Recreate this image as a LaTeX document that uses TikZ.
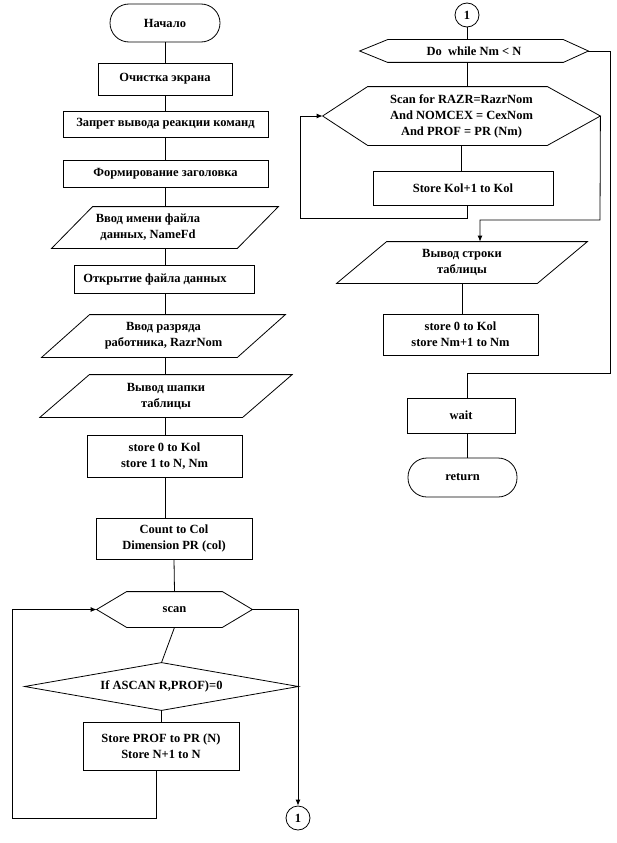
\documentclass[tikz,border=0pt]{standalone}
\usepackage{fontspec}
\setmainfont{Liberation Serif}
\usetikzlibrary{arrows.meta,calc}
\newcommand{\mypara}[2]{\draw ($(#1.north west)+(#2,0)$) -- ($(#1.north east)+(#2,0)$) -- ($(#1.south east)-(#2,0)$) -- ($(#1.south west)-(#2,0)$) -- cycle;}
\newcommand{\myhex}[3]{\draw (#1.west) -- ($(#1.north west)+(#2,0)$) -- ($(#1.north east)-(#3,0)$) -- (#1.east) -- ($(#1.south east)-(#3,0)$) -- ($(#1.south west)+(#2,0)$) -- cycle;}
\begin{document}
\begin{tikzpicture}[x=1pt,y=-1pt,line width=0.8pt,
  every node/.style={font=\fontsize{12.5}{16}\selectfont\bfseries,align=center,inner sep=0pt},
  box/.style={draw,rectangle},
  term/.style={draw,rectangle,rounded corners=19pt},
  frame/.style={rectangle},
  conn/.style={draw,circle,minimum size=24pt},
  arr/.style={-{Latex[length=6pt,width=5pt]}}]
\useasboundingbox (0,0) rectangle (616,843);
% ---------- left column ----------
\node[term,minimum width=110pt,minimum height=38pt] (start) at (165,23) {Начало};
\node[box,minimum width=134pt,minimum height=32pt] (clr) at (165,79) {Очистка экрана};
\node[box,minimum width=205pt,minimum height=26pt] (zap) at (165.5,124) {Запрет вывода реакции команд};
\node[box,minimum width=205pt,minimum height=27pt] (form) at (165.5,173.5) {Формирование заголовка};
\node[frame,minimum width=185pt,minimum height=41pt] (in1) at (165,227.5) {};
\mypara{in1}{20.5}
\node (in1t) at (148,227.5) {Ввод имени файла\\данных, NameFd};
\node[box,minimum width=180pt,minimum height=28pt] (open) at (164,279) {};
\node (opent) at (155,279) {Открытие файла данных};
\node[frame,minimum width=195pt,minimum height=42pt] (in2) at (163.5,336) {Ввод разряда\\работника, RazrNom};
\mypara{in2}{24}
\node[frame,minimum width=202pt,minimum height=42pt] (out1) at (166,396) {Вывод шапки\\таблицы};
\mypara{out1}{24.75}
\node[box,minimum width=155pt,minimum height=42pt] (st1) at (164.5,456) {store 0 to Kol\\store 1 to N, Nm};
\node[box,minimum width=156pt,minimum height=41pt] (cnt) at (174,538.5) {Count to Col\\Dimension PR (col)};
\node[frame,minimum width=155pt,minimum height=35pt] (scan) at (174.5,609.5) {scan};
\myhex{scan}{30}{30}
\node[frame,minimum width=273pt,minimum height=47pt] (ifd) at (161.5,686.5) {If ASCAN R,PROF)=0};
\draw (ifd.west) -- (ifd.north) -- (ifd.east) -- (ifd.south) -- cycle;
\node[box,minimum width=156pt,minimum height=48pt] (spn) at (161,746) {Store PROF to PR (N)\\Store N+1 to N};
\node[conn] (c1) at (298,818) {1};
% ---------- right column ----------
\node[conn] (c2) at (467,15) {1};
\node[frame,minimum width=228pt,minimum height=22pt] (dw) at (474,51) {Do\ \ while Nm < N};
\myhex{dw}{28}{25}
\node[frame,minimum width=277pt,minimum height=58pt] (sf) at (461.5,116) {Scan for RAZR=RazrNom\\And NOMCEX = CexNom\\And PROF = PR (Nm)};
\myhex{sf}{45}{53}
\node[box,minimum width=180pt,minimum height=34pt] (sk) at (463,188) {Store Kol+1 to Kol};
\node[frame,minimum width=200pt,minimum height=41pt] (out2) at (462,262.5) {Вывод строки\\таблицы};
\mypara{out2}{25}
\node[box,minimum width=155pt,minimum height=41pt] (st2) at (460.5,334.5) {store 0 to Kol\\store Nm+1 to Nm};
\node[box,minimum width=108pt,minimum height=35pt] (wait) at (461,415.5) {wait};
\node[term,minimum width=109pt,minimum height=39pt] (ret) at (462.5,477.5) {return};
% ---------- connectors, left ----------
\draw (start.south) -- (start.south |- clr.north);
\draw (clr.south) -- (clr.south |- zap.north);
\draw (clr.south |- zap.south) -- (clr.south |- form.north);
\draw (clr.south |- form.south) -- (clr.south |- in1.north);
\draw (in1.south) -- (in1.south |- open.north);
\draw (in1.south |- open.south) -- (in1.south |- in2.north);
\draw (in1.south |- in2.south) -- (in1.south |- out1.north);
\draw (in1.south |- out1.south) -- (in1.south |- st1.north);
\draw (in1.south |- st1.south) -- (in1.south |- cnt.north);
\draw (cnt.south) -- (scan.north);
\draw (scan.south) -- (ifd.north);
\draw (ifd.south) -- (ifd.south |- spn.north);
\coordinate (lb) at (12,818);
\draw[arr] ([xshift=-5pt]spn.south) |- (lb) |- (scan.west);
\draw[arr] (scan.east) -| (c1.north);
% ---------- connectors, right ----------
\draw (c2.south) -- (c2.south |- dw.north);
\draw (c2.south |- dw.south) -- (c2.south |- sf.north);
\draw (sf.south) -- (sf.south |- sk.north);
\coordinate (l2) at (300,218);
\draw[arr] ([xshift=4pt]sk.south) |- (l2) |- (sf.west);
\coordinate (r1) at (600,220);
\draw[arr] (sf.east) -- (r1) -| ([xshift=18pt]out2.north);
\draw (out2.south) -- (out2.south |- st2.north);
\coordinate (r2) at (610,373);
\draw (dw.east) -| (r2) -| ([xshift=6pt]wait.north);
\draw ([xshift=6pt]wait.south) -- ([xshift=6pt]wait.south |- ret.north);
\end{tikzpicture}
\end{document}
